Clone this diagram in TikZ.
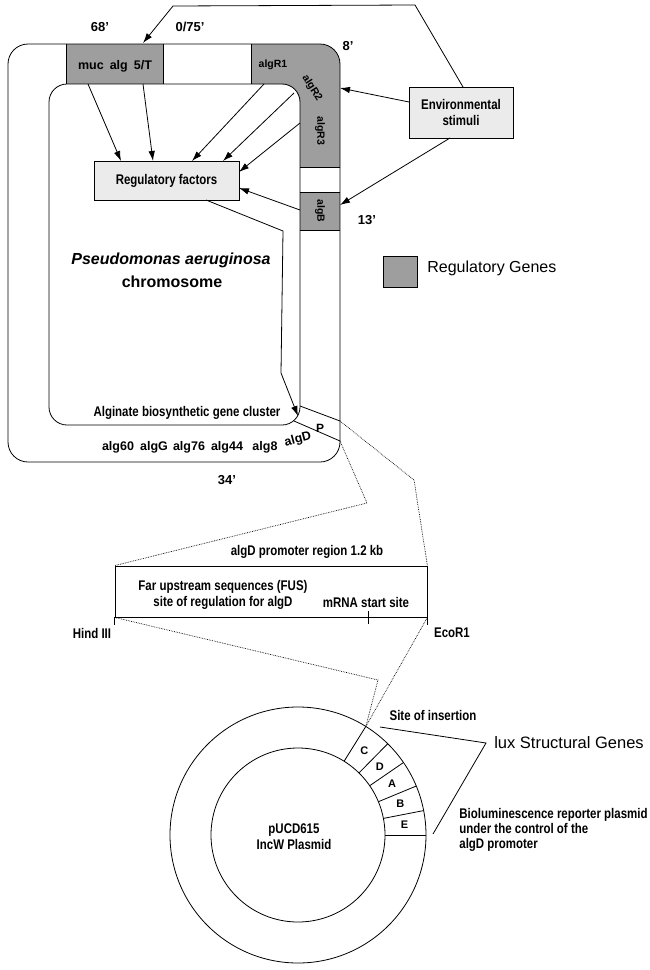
\documentclass[tikz,border=0pt]{standalone}
\usepackage{fontspec}
\setmainfont{Liberation Sans}
\usetikzlibrary{arrows.meta}
\newcommand\nar[1]{\scalebox{0.82}[1]{#1}}
\begin{document}
\begin{tikzpicture}[x=1pt,y=-1pt,
  line width=0.8pt,
  arr/.style={-{Latex[length=10pt,width=6.5pt]}},
  dotline/.style={densely dotted, line width=0.7pt},
  regfill/.style={fill=black!38},
  boxfill/.style={fill=black!8},
  nartxt/.style={font=\fontsize{14}{16}\selectfont\bfseries, inner sep=0pt},
  lbl/.style={font=\fontsize{12.5}{14}\selectfont\bfseries, inner sep=0pt},
  rlbl/.style={font=\fontsize{10.5}{12}\selectfont\bfseries, inner sep=0pt},
  num/.style={font=\fontsize{13}{15}\selectfont\bfseries, inner sep=0pt},
  big/.style={font=\fontsize{16}{18}\selectfont, inner sep=0pt},
  seg/.style={font=\fontsize{11}{12}\selectfont\bfseries, inner sep=0pt},
]
\useasboundingbox[fill=white] (0,0) rectangle (649,970);

% ---- chromosome ring: shaded regulatory genes
\fill[regfill] (66,44) rectangle (163,84);
\begin{scope}
  \clip (251,0) rectangle (360,167);
  \fill[regfill, even odd rule, rounded corners=20pt] (8,44) rectangle (340,462) [rounded corners=18pt] (49,84) rectangle (300,425);
\end{scope}
\fill[regfill] (300,192) rectangle (340,230);

% ring outlines
\draw[rounded corners=20pt] (8,44) rectangle (340,462);
\draw[rounded corners=18pt] (49,84) rectangle (300,425);
\draw (66,44) -- (66,84) (163,44) -- (163,84) (251,44) -- (251,84);
\draw (300,167) -- (340,167) (300,192) -- (340,192) (300,230) -- (340,230);
\coordinate (pa) at (340,421);
\coordinate (pb) at (340,441);
\draw (300,406) -- (pa) (294,421) -- (pb);

% labels on the chromosome
\node[num] at (100,27) {68'};
\node[num] at (190,27) {0/75'};
\node[num] at (348,46) {8'};
\node[num] at (367,220) {13'};
\node[num] at (227,480) {34'};
\node[lbl] at (115,66) {muc\hspace{6pt}alg\hspace{6pt}5/T};
\node[rlbl] at (273,65) {algR1};
\node[rlbl, rotate=-58] at (312,88) {algR2};
\node[rlbl, rotate=-90] at (320,131) {algR3};
\node[rlbl, rotate=-90] at (320,211) {algB};
\node[lbl, font=\fontsize{12}{13}\selectfont\bfseries] at (320,428) {P};

\node[font=\fontsize{16}{20}\selectfont\bfseries\itshape, inner sep=0pt] at (171,260) {Pseudomonas aeruginosa};
\node[font=\fontsize{16}{20}\selectfont\bfseries, inner sep=0pt] at (172,282) {chromosome};
\node[nartxt] at (187,413) {\nar{Alginate biosynthetic gene cluster}};
\node[lbl] at (118,447) {alg60};
\node[lbl] at (154,447) {algG};
\node[lbl] at (189,447) {alg76};
\node[lbl] at (227,447) {alg44};
\node[lbl] at (265,447) {alg8};
\node[lbl, rotate=15] at (298,440) {algD};

% ---- regulatory factors and environmental stimuli
\node[draw, boxfill, minimum width=145pt, minimum height=39pt, nartxt] (rf) at (166.5,180.5) {\nar{Regulatory factors}};
\node[draw, boxfill, minimum width=104pt, minimum height=51pt, nartxt, align=center] (env) at (461,112.5) {\nar{Environmental}\\\nar{stimuli}};

\coordinate (m1) at (88,84);   \coordinate (t1) at (121,161);
\coordinate (m2) at (143,84);  \coordinate (t2) at (153,161);
\coordinate (r1) at (264,84);  \coordinate (t3) at (192,161);
\coordinate (r2) at (294,93);  \coordinate (t4) at (223,161);
\coordinate (r3) at (300,123); \coordinate (t5) at (239,172);
\coordinate (rb) at (300,210); \coordinate (t6) at (239,188);
\draw[arr] (m1) -- (t1);
\draw[arr] (m2) -- (t2);
\draw[arr] (r1) -- (t3);
\draw[arr] (r2) -- (t4);
\draw[arr] (r3) -- (t5);
\draw[arr] (rb) -- (t6);

\coordinate (e1) at (409,102);  \coordinate (h1) at (340,88);
\coordinate (e2) at (450,138);  \coordinate (h2) at (340,205);
\coordinate (e3) at (463,87);   \coordinate (h3) at (143,43);
\draw[arr] (e1) -- (h1);
\draw[arr] (e2) -- (h2);
\draw[arr] (e3) -- (415,5) -- (173,6) -- (h3);

\coordinate (rfo) at (206,200); \coordinate (ptip) at (298,416);
\draw[arr] (rfo) -- (283,231) -- (281,373) -- (ptip);

% legend
\draw[regfill] (383,256) rectangle (417,287);
\node[big, anchor=west] at (427,268) {Regulatory Genes};

% ---- promoter region
\node[draw, minimum width=312pt, minimum height=51pt, inner sep=0pt] (prom) at (271,591.5) {};
\node[nartxt] at (307,552) {\nar{algD promoter region 1.2 kb}};
\node[nartxt, align=center] at (223,595) {\nar{Far upstream sequences (FUS)}\\\nar{site of regulation for algD}};
\node[nartxt] at (366,602) {\nar{mRNA start site}};
\node[nartxt] at (92,633) {\nar{Hind III}};
\node[nartxt] at (452,633) {\nar{EcoR1}};
\draw (prom.south west) -- ++(0,8);
\draw (prom.south east) -- ++(0,8);
\draw (368,611) -- (368,624);

\draw[dotline] (pa) -- (414,480) -- (prom.north east);
\draw[dotline] (pb) -- (367,503) -- (prom.north west);

% ---- plasmid
\begin{scope}[shift={(298,835)}]
  \draw (0,0) circle[radius=128pt];
  \draw (0,0) circle[radius=87pt];
  \foreach \a in {58,45.5,34.5,22.5,11,0} \draw (-\a:87) -- (-\a:128);
  \coordinate (ins) at (-58:128);
  \node[seg] at (-51.75:107) {C};
  \node[seg] at (-40:107) {D};
  \node[seg] at (-28.5:107) {A};
  \node[seg] at (-16.75:107) {B};
  \node[seg] at (-5.5:107) {E};
  \node[nartxt, align=center] at (-4,2) {\nar{pUCD615}\\\nar{IncW Plasmid}};
\end{scope}

\draw[dotline] (prom.south west) -- (378,680) -- (ins);
\draw[dotline] (prom.south east) -- (ins);

\node[nartxt] at (433,715) {\nar{Site of insertion}};
\node[big, font=\fontsize{16.5}{18}\selectfont] at (569,743) {lux Structural Genes};
\coordinate (lx1) at (380,727);
\coordinate (lx2) at (433,834);
\draw (lx1) -- (486,743) -- (lx2);
\node[nartxt, align=left, anchor=west, font=\fontsize{14}{15}\selectfont\bfseries] at (459,830) {\nar{Bioluminescence reporter plasmid}\\\nar{under the control of the}\\\nar{algD promoter}};
\end{tikzpicture}
\end{document}
